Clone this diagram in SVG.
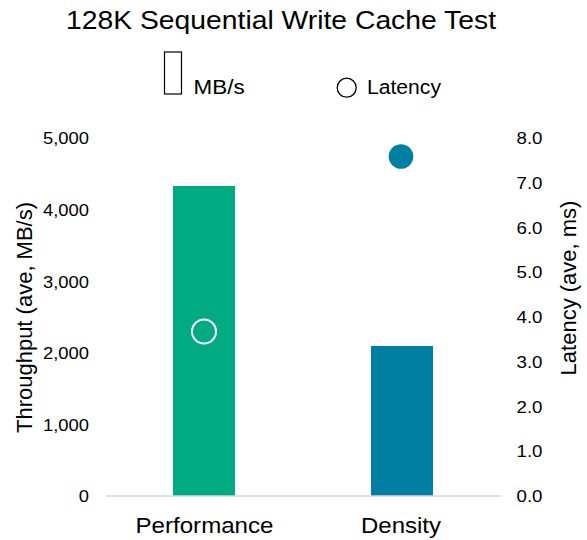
<svg xmlns="http://www.w3.org/2000/svg" width="587" height="540" viewBox="0 0 587 540">
<style>
text{font-family:"Liberation Sans",Arial,sans-serif;fill:#000}
.tick{font-size:17px}
.l{text-anchor:end}
.cat{font-size:22px;text-anchor:middle}
.leg{font-size:19.5px}
.ax{font-size:22px;text-anchor:middle}
</style>
<rect width="587" height="540" fill="#fff"/>
<text id="title" x="66" y="28.5" font-size="25" textLength="430" lengthAdjust="spacingAndGlyphs">128K Sequential Write Cache Test</text>
<g id="legend">
<rect x="164.5" y="52" width="17" height="42" fill="none" stroke="#000" stroke-width="1.2"/>
<text class="leg" x="193.6" y="93.5" textLength="51" lengthAdjust="spacingAndGlyphs">MB/s</text>
<circle cx="346.7" cy="87.7" r="9.5" fill="none" stroke="#000" stroke-width="1.3"/>
<text class="leg" x="367" y="93.5" textLength="74" lengthAdjust="spacingAndGlyphs">Latency</text>
</g>
<g id="left-axis" class="tick">
<text class="tick l" x="89" y="144.3" textLength="46" lengthAdjust="spacingAndGlyphs">5,000</text>
<text class="tick l" x="89" y="216" textLength="46" lengthAdjust="spacingAndGlyphs">4,000</text>
<text class="tick l" x="89" y="287.5" textLength="46" lengthAdjust="spacingAndGlyphs">3,000</text>
<text class="tick l" x="89" y="359" textLength="46" lengthAdjust="spacingAndGlyphs">2,000</text>
<text class="tick l" x="89" y="430.5" textLength="46" lengthAdjust="spacingAndGlyphs">1,000</text>
<text class="tick l" x="89" y="502" textLength="10.2" lengthAdjust="spacingAndGlyphs">0</text>
<text class="ax" transform="translate(32,317.5) rotate(-90)">Throughput (ave, MB/s)</text>
</g>
<g id="right-axis">
<text class="tick" x="516.5" y="144.3" textLength="26" lengthAdjust="spacingAndGlyphs">8.0</text>
<text class="tick" x="516.5" y="188.8" textLength="26" lengthAdjust="spacingAndGlyphs">7.0</text>
<text class="tick" x="516.5" y="233.5" textLength="26" lengthAdjust="spacingAndGlyphs">6.0</text>
<text class="tick" x="516.5" y="278.3" textLength="26" lengthAdjust="spacingAndGlyphs">5.0</text>
<text class="tick" x="516.5" y="323" textLength="26" lengthAdjust="spacingAndGlyphs">4.0</text>
<text class="tick" x="516.5" y="367.8" textLength="26" lengthAdjust="spacingAndGlyphs">3.0</text>
<text class="tick" x="516.5" y="412.5" textLength="26" lengthAdjust="spacingAndGlyphs">2.0</text>
<text class="tick" x="516.5" y="457.3" textLength="26" lengthAdjust="spacingAndGlyphs">1.0</text>
<text class="tick" x="516.5" y="502" textLength="26" lengthAdjust="spacingAndGlyphs">0.0</text>
<text class="ax" transform="translate(576,288) rotate(-90)">Latency (ave, ms)</text>
</g>
<g id="bar-performance">
<rect x="173" y="186" width="62" height="310" fill="#00AA82"/>
</g>
<g id="bar-density">
<rect x="371" y="346" width="62" height="150" fill="#007FA3"/>
</g>
<line x1="106" y1="496" x2="501" y2="496" stroke="#d9d9d9" stroke-width="1.5"/>
<g id="latency-performance">
<circle cx="204" cy="331.5" r="12" fill="none" stroke="#fff" stroke-width="2"/>
</g>
<g id="latency-density">
<circle cx="401" cy="156.5" r="12.3" fill="#007FA3"/>
</g>
<g id="categories">
<text class="cat" x="204.5" y="533" textLength="138" lengthAdjust="spacingAndGlyphs">Performance</text>
<text class="cat" x="401" y="533" textLength="80" lengthAdjust="spacingAndGlyphs">Density</text>
</g>
</svg>
